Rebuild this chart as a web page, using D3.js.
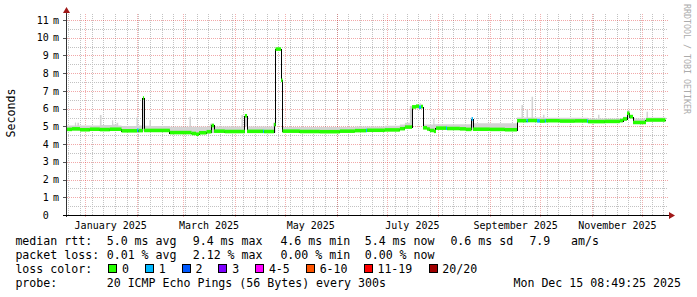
<!DOCTYPE html>
<html>
<head>
<meta charset="utf-8">
<script src="https://cdn.jsdelivr.net/npm/d3@7"></script>
<style>
body { margin: 0; background: #fff; }
svg { display: block; }
text { font-family: "DejaVu Sans Mono", monospace; fill: #000; }
</style>
</head>
<body>
<div id="chart"></div>
<script>
// ---- data ----
const endTime = new Date(Date.UTC(2025, 11, 15, 8, 49, 25));
const startTime = new Date(+endTime - 360 * 864e5);

const yTickValues = [0, 1, 2, 3, 4, 5, 6, 7, 8, 9, 10, 11];
const yTickLabels = ["0", "1 m", "2 m", "3 m", "4 m", "5 m", "6 m", "7 m", "8 m", "9 m", "10 m", "11 m"];

const xLabelMonths = ["2025-01-01", "2025-03-01", "2025-05-01", "2025-07-01", "2025-09-01", "2025-11-01"];

// median rtt (ms), step series; loss = pings lost per step
const medDates = ["2024-12-20T08","2024-12-24T07","2024-12-29T02","2025-01-04T00","2025-01-10T00","2025-01-16T00",
  "2025-01-23T00","2025-02-01T07","2025-02-02T05","2025-02-04T20","2025-02-05T12","2025-02-21T00","2025-03-06T00",
  "2025-03-08T16","2025-03-10T12","2025-03-15T00","2025-03-18T00","2025-03-19T12","2025-03-26T00","2025-04-07T00",
  "2025-04-08T07","2025-04-17T22","2025-04-18T12","2025-04-24T12","2025-04-25T10","2025-04-28T17","2025-04-29T14",
  "2025-05-10T00","2025-05-22T00","2025-06-03T00","2025-06-12T00","2025-06-18T16","2025-06-19T07","2025-06-30T00",
  "2025-07-09T00","2025-07-12T00","2025-07-16T07","2025-07-18T16","2025-07-20T12","2025-07-21T16","2025-07-22T21",
  "2025-07-25T07","2025-07-27T00","2025-07-29T12","2025-07-30T16","2025-08-05T16","2025-08-06T07","2025-08-14T00",
  "2025-08-17T16","2025-08-21T00","2025-08-21T21","2025-09-01T00","2025-09-10T00","2025-09-17T07","2025-09-23T00",
  "2025-09-23T21","2025-09-29T07","2025-10-01T00","2025-10-04T00","2025-10-04T16","2025-10-13T00","2025-10-22T00",
  "2025-10-29T07","2025-10-29T21","2025-11-09T00","2025-11-18T00","2025-11-19T21","2025-11-22T07","2025-11-23T19",
  "2025-11-25T21","2025-12-03T16"];
const medValues = [4.83, 4.86, 4.81, 4.84, 4.82, 4.84,
  4.75, 4.78, 4.76, 6.6, 4.77, 4.65, 4.60,
  4.56, 4.64, 4.70, 5.05, 4.73, 4.71, 5.6,
  4.72, 4.72, 4.71, 5.10, 9.36, 7.6, 4.73,
  4.71, 4.70, 4.73, 4.76, 4.77, 4.78, 4.80,
  4.87, 4.96, 6.10, 6.14, 6.08, 6.12, 4.92,
  4.85, 4.77, 4.72, 4.90, 4.90, 4.88, 4.86,
  4.83, 5.42, 4.84, 4.83, 4.81, 5.32, 5.32,
  5.33, 5.31, 5.30, 5.31, 5.32, 5.30, 5.31,
  5.30, 5.27, 5.28, 5.33, 5.42, 5.74, 5.55,
  5.22, 5.36];
const medLoss = [0, 0, 0, 0, 0, 0,
  0, 1, 0, 0, 0, 0, 0,
  0, 0, 0, 0, 0, 0, 0,
  0, 1, 0, 0, 0, 0, 0,
  0, 0, 0, 0, 1, 0, 0,
  0, 0, 0, 0, 1, 0, 0,
  0, 0, 0, 0, 1, 0, 0,
  0, 1, 0, 0, 0, 0, 1,
  0, 1, 0, 1, 0, 0, 0,
  1, 0, 0, 0, 0, 0, 0,
  0, 0];

// smoke (spread of the 20 pings), step series
const smokeDates = ["2024-12-20T08","2024-12-26T00","2024-12-26T18","2024-12-27T12","2024-12-28T12","2025-01-10T00",
  "2025-01-11T00","2025-01-17T06","2025-01-18T00","2025-01-20T00","2025-01-21T00","2025-01-23T00","2025-01-31T23",
  "2025-02-01T20","2025-02-04T20","2025-02-05T12","2025-02-08T18","2025-02-09T16","2025-02-21T00","2025-03-04T18",
  "2025-03-05T16","2025-03-10T12","2025-03-17T00","2025-03-19T12","2025-04-04T22","2025-04-05T20","2025-04-07T00",
  "2025-04-08T07","2025-04-23T20","2025-04-25T10","2025-04-28T17","2025-04-29T14","2025-05-10T00","2025-06-12T00",
  "2025-06-30T00","2025-07-09T00","2025-07-12T00","2025-07-15T00","2025-07-16T07","2025-07-20T18","2025-07-21T16",
  "2025-07-22T21","2025-07-27T00","2025-07-29T00","2025-07-29T18","2025-07-30T16","2025-08-21T00","2025-08-21T21",
  "2025-09-17T07","2025-09-19T23","2025-09-20T21","2025-09-23T00","2025-09-23T21","2025-09-26T00","2025-09-26T22",
  "2025-10-02T21","2025-10-03T18","2025-10-29T21","2025-11-04T21","2025-11-05T18","2025-11-19T21","2025-11-22T07",
  "2025-11-23T19","2025-11-25T21","2025-12-03T16","2025-12-03T23","2025-12-04T21"];
const smokeLo = [4.77, 4.77, 4.77, 4.76, 4.76, 4.76,
  4.76, 4.76, 4.76, 4.76, 4.76, 4.69, 4.69,
  4.69, 4.72, 4.70, 4.70, 4.70, 4.59, 4.59,
  4.54, 4.58, 4.62, 4.66, 4.66, 4.66, 5.00,
  4.66, 4.66, 9.25, 7.50, 4.66, 4.65, 4.70,
  4.74, 4.80, 4.88, 4.90, 6.00, 6.00, 6.00,
  4.84, 4.70, 4.66, 4.66, 4.82, 4.78, 4.78,
  5.25, 5.25, 5.25, 5.25, 5.25, 5.25, 5.25,
  5.25, 5.25, 5.20, 5.20, 5.20, 5.30, 5.50,
  5.45, 5.15, 5.28, 5.28, 5.28];
const smokeHi = [5.05, 5.22, 5.05, 5.20, 5.05, 5.64,
  5.08, 5.35, 5.10, 5.20, 5.05, 5.02, 5.50,
  5.05, 6.65, 5.03, 5.35, 5.02, 4.98, 5.55,
  4.98, 4.98, 5.15, 5.00, 5.64, 5.00, 5.70,
  5.00, 5.20, 9.48, 7.70, 4.97, 4.96, 5.00,
  5.03, 5.10, 5.20, 6.15, 6.20, 6.30, 6.22,
  5.10, 5.10, 5.42, 5.12, 5.12, 5.50, 5.18,
  5.50, 6.20, 5.50, 5.95, 5.50, 6.67, 5.50,
  5.65, 5.48, 5.45, 5.65, 5.45, 5.55, 5.90,
  5.65, 5.45, 5.50, 5.83, 5.50];

const lossLabels = ["0", "1", "2", "3", "4-5", "6-10", "11-19", "20/20"];
const lossColors = ["#26ff00", "#00b8ff", "#0059ff", "#7e00ff", "#ff00ff", "#ff5500", "#ff0000", "#a00000"];

const rttStats = ["median rtt:", "5.0 ms avg", "9.4 ms max", "4.6 ms min", "5.4 ms now", "0.6 ms sd", "7.9", "am/s"];
const lossStats = ["packet loss:", "0.01 % avg", "2.12 % max", "0.00 % min", "0.00 % now"];
const probeText = ["probe:", "20 ICMP Echo Pings (56 Bytes) every 300s"];
const stampText = "Mon Dec 15 08:49:25 2025";

// ---- layout ----
const W = 697, H = 297;
const plotL = 66, plotR = 668, plotT = 14, plotB = 215;
const charW = 7.02;
const cols = [15.4, 106.7, 192.7, 280.4, 364.7, 450.4, 529.4, 571.1];

const parse = d3.utcParse("%Y-%m-%dT%H");
const parseDay = d3.utcParse("%Y-%m-%d");

const x = d3.scaleUtc().domain([startTime, endTime]).range([65.5, 665.5]);
const y = d3.scaleLinear().domain([0, 11.34]).range([plotB, plotT]);

const svg = d3.select("#chart").append("svg")
    .attr("width", W)
    .attr("height", H);

const px = v => Math.round(v) + 0.5;

// grid
const grid = svg.append("g").attr("shape-rendering", "crispEdges");
const minorY = d3.range(1, 23, 2).map(d => d / 2);
grid.selectAll(".hminor").data(minorY).enter().append("line")
    .attr("x1", plotL).attr("x2", plotR)
    .attr("y1", d => px(y(d))).attr("y2", d => px(y(d)))
    .attr("stroke", "#c2c2c2").attr("stroke-dasharray", "1,1");
grid.selectAll(".vminor").data(d3.utcSunday.range(startTime, endTime)).enter().append("line")
    .attr("x1", d => px(x(d))).attr("x2", d => px(x(d)))
    .attr("y1", plotT).attr("y2", plotB)
    .attr("stroke", "#c2c2c2").attr("stroke-dasharray", "1,1");
grid.selectAll(".hmajor").data(yTickValues.slice(1)).enter().append("line")
    .attr("x1", plotL - 3).attr("x2", plotR)
    .attr("y1", d => px(y(d))).attr("y2", d => px(y(d)))
    .attr("stroke", "rgba(222,48,48,0.42)").attr("stroke-dasharray", "1,1");
grid.selectAll(".vmajor").data(d3.utcMonth.range(startTime, endTime)).enter().append("line")
    .attr("x1", d => px(x(d))).attr("x2", d => px(x(d)))
    .attr("y1", plotT).attr("y2", plotB + 2)
    .attr("stroke", "rgba(222,48,48,0.38)").attr("stroke-dasharray", "1,1");

const plot = svg.append("g");
plot.append("clipPath").attr("id", "clip")
    .append("rect").attr("x", plotL + 1).attr("y", 0).attr("width", plotR - plotL).attr("height", plotB);

// smoke
const smoke = smokeDates.map((d, i) => ({ t: parse(d), lo: smokeLo[i], hi: smokeHi[i] }));
smoke.push({ t: endTime, lo: smokeLo[smokeLo.length - 1], hi: smokeHi[smokeHi.length - 1] });
plot.append("path")
    .datum(smoke)
    .attr("clip-path", "url(#clip)")
    .attr("fill", "#d3d3d3")
    .attr("d", d3.area().curve(d3.curveStepAfter)
        .x(d => x(d.t)).y0(d => y(d.lo)).y1(d => y(d.hi)));

// median line
const med = medDates.map((d, i) => ({ t: parse(d), v: medValues[i], loss: medLoss[i] }));
med.forEach((d, i) => { d.t1 = i < med.length - 1 ? med[i + 1].t : endTime; });
plot.append("path")
    .datum(med.concat([{ t: endTime, v: medValues[medValues.length - 1] }]))
    .attr("clip-path", "url(#clip)")
    .attr("fill", "none")
    .attr("stroke", "#000")
    .attr("stroke-width", 1)
    .attr("shape-rendering", "crispEdges")
    .attr("d", d3.line().curve(d3.curveStepAfter).x(d => x(d.t)).y(d => px(y(d.v))));

// loss-coloured band around the median
const bw = 0.1;
plot.selectAll(".band").data(med).enter().append("rect")
    .attr("clip-path", "url(#clip)")
    .attr("x", d => x(d.t))
    .attr("width", d => Math.max(1, x(d.t1) - x(d.t)))
    .attr("y", d => y(d.v + bw))
    .attr("height", d => y(d.v - bw) - y(d.v + bw))
    .attr("fill", d => lossColors[d.loss]);

// axes
const axes = svg.append("g").attr("shape-rendering", "crispEdges");
axes.append("line").attr("x1", plotL + 0.5).attr("x2", plotL + 0.5).attr("y1", plotB + 2).attr("y2", 12)
    .attr("stroke", "#333");
axes.append("line").attr("x1", plotL - 3).attr("x2", 670).attr("y1", plotB + 0.5).attr("y2", plotB + 0.5)
    .attr("stroke", "#000");
axes.selectAll(".ytick").data(yTickValues.slice(1)).enter().append("line")
    .attr("x1", plotL - 3).attr("x2", plotL)
    .attr("y1", d => px(y(d))).attr("y2", d => px(y(d)))
    .attr("stroke", "#555");
svg.append("path").attr("d", "M63,13 L70,13 L66.5,7 Z").attr("fill", "#a01818");
svg.append("path").attr("d", "M669,212 L669,219 L675,215.5 Z").attr("fill", "#a01818");

// y tick labels
const yl = svg.append("g").style("font-size", "10px");
yl.selectAll(".ynum").data(yTickValues).enter().append("text")
    .attr("x", 48.7).attr("y", d => y(d) + 3.6)
    .attr("text-anchor", "end")
    .text((d, i) => yTickLabels[i].split(" ")[0]);
yl.selectAll(".yunit").data(yTickValues).enter().append("text")
    .attr("x", 53).attr("y", d => y(d) + 3.6)
    .text((d, i) => yTickLabels[i].split(" ")[1] || "");

// x labels, centred in the month like rrdtool does
svg.append("g").style("font-size", "10px")
    .selectAll("text").data(xLabelMonths).enter().append("text")
    .attr("x", d => x(new Date(+parseDay(d) + 15.5 * 864e5)))
    .attr("y", 229)
    .attr("text-anchor", "middle")
    .text(d => d3.utcFormat("%B %Y")(parseDay(d)));

// axis title and watermark
svg.append("text")
    .attr("transform", "translate(15.3,113) rotate(-90)")
    .attr("text-anchor", "middle")
    .style("font-size", "11.6px")
    .text("Seconds");
svg.append("text")
    .attr("transform", "translate(684,4) rotate(90)")
    .style("font-size", "8.3px")
    .style("fill", "#ababab")
    .text("RRDTOOL / TOBI OETIKER");

// legend
const leg = svg.append("g").style("font-size", "11.6px");
leg.selectAll(".r1").data(rttStats).enter().append("text")
    .attr("x", (d, i) => cols[i]).attr("y", 245).text(d => d);
leg.selectAll(".r2").data(lossStats).enter().append("text")
    .attr("x", (d, i) => cols[i]).attr("y", 259).text(d => d);
leg.append("text").attr("x", cols[0]).attr("y", 273).text("loss color:");
let bx = 108.3;
lossLabels.forEach((lab, i) => {
    leg.append("rect")
        .attr("x", Math.round(bx) + 0.5).attr("y", 264.5)
        .attr("width", 8).attr("height", 8)
        .attr("fill", lossColors[i]).attr("stroke", "#000").attr("stroke-width", 1)
        .attr("shape-rendering", "crispEdges");
    leg.append("text").attr("x", bx + 13.7).attr("y", 273).text(lab);
    bx += 13.7 + lab.length * charW + 16;
});
leg.append("text").attr("x", cols[0]).attr("y", 287).text(probeText[0]);
leg.append("text").attr("x", cols[1]).attr("y", 287).text(probeText[1]);
leg.append("text").attr("x", 681).attr("y", 287).attr("text-anchor", "end").text(stampText);
</script>
</body>
</html>
